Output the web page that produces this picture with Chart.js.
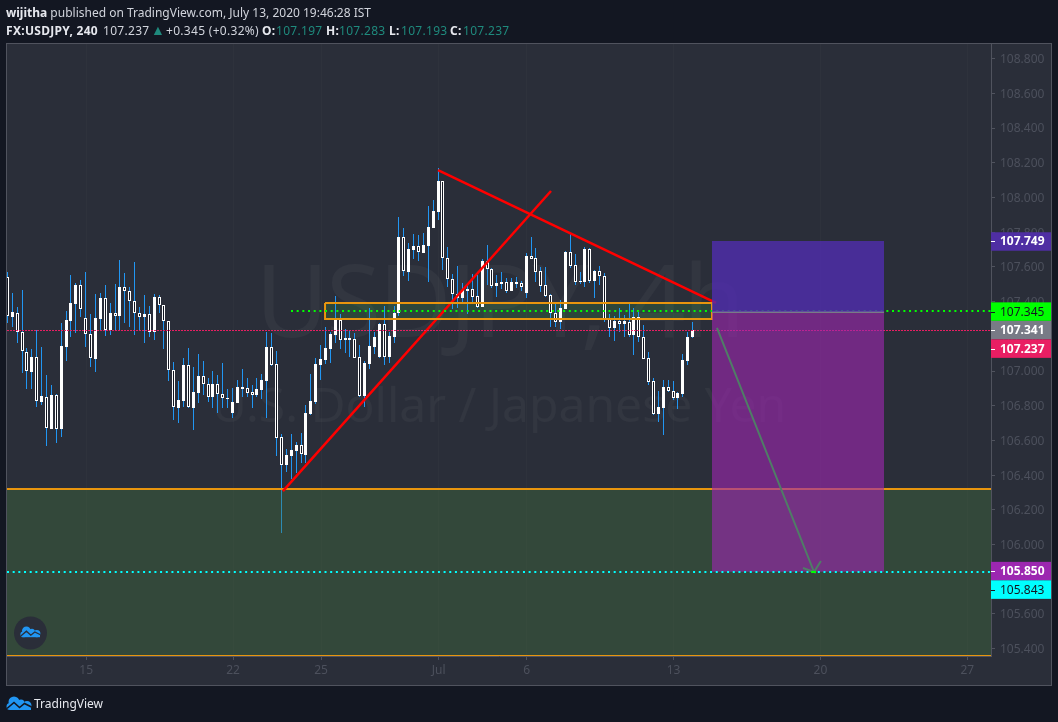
<!DOCTYPE html>
<html>
<head>
<meta charset="utf-8">
<title>USDJPY</title>
<script src="https://cdn.jsdelivr.net/npm/chart.js@4"></script>
<style>
    html, body { margin: 0; padding: 0; background: #131722; overflow: hidden; }
    #wrap { position: relative; width: 1058px; height: 722px; font-family: "Noto Sans", sans-serif; font-size: 12px; color: #d1d4dc; }
    canvas { position: absolute; left: 0; top: 0; }
    .line { position: absolute; left: 6px; white-space: nowrap; }
    .line b { color: #e6e8ee; font-weight: 700; }
    .row2 span, .row2 b { position: absolute; top: 0; letter-spacing: 0.3px; }
    .up { color: #1f8a7d; }
    .tri { font-size: 14px; line-height: 16px; }
</style>
</head>
<body>
<div id="wrap">
    <canvas id="myChart" width="1058" height="722"></canvas>
    <div class="line" style="top:4px"><b>wijitha</b> published on TradingView.com, July 13, 2020 19:46:28 IST</div>
    <div class="line row2" style="top:22px">
        <b style="left:0">FX:USDJPY, 240</b>
        <span style="left:97px">107.237</span>
        <span class="up tri" style="left:145px">▲</span>
        <span style="left:160px">+0.345 (+0.32%)</span>
        <b style="left:256px">O:</b><span class="up" style="left:270px">107.197</span>
        <b style="left:320px">H:</b><span class="up" style="left:333px">107.283</span>
        <b style="left:383px">L:</b><span class="up" style="left:395px">107.193</span>
        <b style="left:444px">C:</b><span class="up" style="left:457px">107.237</span>
    </div>
    <div class="line" style="top:695px;left:34px;color:#e6e8ee">TradingView</div>
</div>
<script>
// candles, 4h bars
const opens = [
    107.542, 107.312, 107.335, 107.225, 107.110, 106.994, 107.081, 106.821, 106.850, 106.666,
    106.862, 106.666, 107.138, 107.288, 107.386, 107.496, 107.306, 107.213, 107.069, 107.300,
    107.421, 107.236, 107.335, 107.317, 107.484, 107.461, 107.403, 107.335, 107.312, 107.329,
    107.225, 107.427, 107.380, 107.288, 107.006, 106.787, 106.827, 107.035, 106.787, 106.873,
    106.971, 106.925, 106.850, 106.925, 106.867, 106.844, 106.758, 106.816, 106.896, 106.902,
    106.879, 106.862, 106.891, 106.942, 107.138, 107.040, 106.620, 106.458, 106.510, 106.539,
    106.574, 106.516, 106.752, 106.821, 107.035, 107.063, 107.127, 107.207, 107.294, 107.179,
    107.179, 107.184, 107.081, 106.856, 107.040, 107.138, 107.081, 107.271, 107.081, 107.196,
    107.335, 107.772, 107.570, 107.697, 107.720, 107.680, 107.720, 107.824, 107.916, 108.095,
    107.651, 107.530, 107.444, 107.421, 107.461, 107.473, 107.432, 107.369, 107.634, 107.588,
    107.490, 107.501, 107.513, 107.461, 107.501, 107.507, 107.450, 107.663, 107.651, 107.576,
    107.496, 107.438, 107.335, 107.282, 107.357, 107.686, 107.611, 107.513, 107.513, 107.703,
    107.519, 107.576, 107.547, 107.300, 107.248, 107.288, 107.271, 107.282, 107.207, 107.312,
    107.196, 107.075, 106.942, 106.752, 106.787, 106.908, 106.885, 106.844, 106.867, 107.058,
    107.197
]
const highs = [
    107.570, 107.450, 107.369, 107.467, 107.133, 107.127, 107.236, 107.138, 106.977, 106.919,
    106.867, 107.277, 107.346, 107.553, 107.507, 107.524, 107.570, 107.329, 107.444, 107.450,
    107.496, 107.392, 107.501, 107.640, 107.565, 107.484, 107.628, 107.369, 107.438, 107.375,
    107.444, 107.438, 107.380, 107.288, 107.052, 106.942, 107.075, 107.133, 107.023, 107.098,
    107.058, 106.960, 107.000, 106.977, 107.046, 106.896, 106.902, 106.948, 107.012, 106.960,
    106.919, 106.960, 106.983, 107.225, 107.219, 107.115, 106.637, 106.550, 106.637, 106.591,
    106.643, 106.804, 106.983, 107.075, 107.150, 107.254, 107.225, 107.432, 107.329, 107.242,
    107.231, 107.219, 107.150, 107.058, 107.363, 107.225, 107.277, 107.375, 107.225, 107.375,
    107.887, 107.824, 107.738, 107.790, 107.784, 107.795, 107.951, 107.985, 108.170, 108.095,
    107.715, 107.559, 107.605, 107.507, 107.496, 107.559, 107.553, 107.645, 107.726, 107.594,
    107.553, 107.571, 107.536, 107.536, 107.542, 107.519, 107.680, 107.772, 107.709, 107.599,
    107.599, 107.444, 107.392, 107.409, 107.692, 107.795, 107.674, 107.571, 107.715, 107.709,
    107.582, 107.605, 107.565, 107.329, 107.317, 107.363, 107.323, 107.392, 107.363, 107.340,
    107.265, 107.110, 106.960, 106.885, 106.948, 106.948, 106.942, 106.879, 107.098, 107.225,
    107.283
]
const lows = [
    107.277, 107.254, 107.161, 106.989, 106.896, 106.896, 106.793, 106.804, 106.568, 106.666,
    106.585, 106.620, 107.058, 107.196, 107.219, 107.312, 107.138, 107.023, 106.994, 107.236,
    107.202, 107.207, 107.236, 107.236, 107.277, 107.254, 107.207, 107.236, 107.161, 107.196,
    107.179, 107.335, 107.127, 106.942, 106.718, 106.700, 106.793, 106.787, 106.660, 106.816,
    106.862, 106.821, 106.787, 106.758, 106.787, 106.787, 106.729, 106.816, 106.850, 106.850,
    106.787, 106.850, 106.839, 106.729, 107.029, 106.510, 106.066, 106.418, 106.378, 106.412,
    106.470, 106.470, 106.746, 106.810, 106.948, 107.040, 107.046, 107.161, 107.127, 107.104,
    107.081, 107.075, 106.850, 106.793, 107.012, 107.098, 107.075, 107.035, 107.046, 107.161,
    107.317, 107.547, 107.519, 107.645, 107.634, 107.680, 107.513, 107.824, 107.870, 107.582,
    107.484, 107.357, 107.363, 107.398, 107.329, 107.392, 107.363, 107.369, 107.496, 107.478,
    107.427, 107.473, 107.450, 107.461, 107.478, 107.461, 107.421, 107.645, 107.513, 107.455,
    107.427, 107.254, 107.254, 107.242, 107.357, 107.594, 107.496, 107.501, 107.484, 107.507,
    107.421, 107.496, 107.282, 107.196, 107.173, 107.225, 107.196, 107.196, 107.092, 107.167,
    107.069, 106.919, 106.746, 106.706, 106.631, 106.879, 106.833, 106.781, 106.850, 107.035,
    107.193
]
const closes = [
    107.317, 107.340, 107.225, 107.115, 107.000, 107.081, 106.827, 106.856, 106.672, 106.862,
    106.666, 107.144, 107.294, 107.392, 107.496, 107.357, 107.213, 107.075, 107.306, 107.421,
    107.236, 107.335, 107.317, 107.484, 107.461, 107.403, 107.335, 107.312, 107.329, 107.225,
    107.427, 107.380, 107.288, 107.006, 106.793, 106.833, 107.035, 106.793, 106.879, 106.971,
    106.925, 106.850, 106.925, 106.867, 106.844, 106.839, 106.821, 106.908, 106.908, 106.873,
    106.862, 106.896, 106.948, 107.138, 107.035, 106.614, 106.458, 106.516, 106.545, 106.574,
    106.522, 106.758, 106.827, 107.040, 107.069, 107.133, 107.213, 107.294, 107.179, 107.190,
    107.190, 107.075, 106.856, 107.046, 107.144, 107.196, 107.271, 107.081, 107.202, 107.335,
    107.772, 107.576, 107.703, 107.720, 107.686, 107.726, 107.830, 107.922, 108.095, 107.651,
    107.530, 107.444, 107.421, 107.467, 107.473, 107.427, 107.369, 107.634, 107.588, 107.490,
    107.507, 107.513, 107.461, 107.513, 107.513, 107.484, 107.663, 107.645, 107.570, 107.490,
    107.432, 107.335, 107.282, 107.363, 107.686, 107.605, 107.513, 107.519, 107.703, 107.519,
    107.576, 107.547, 107.300, 107.248, 107.288, 107.271, 107.288, 107.207, 107.312, 107.196,
    107.069, 106.937, 106.752, 106.793, 106.908, 106.885, 106.844, 106.873, 107.063, 107.196,
    107.237
]

// axes
const priceTicks = [105.4, 105.6, 105.8, 106.0, 106.2, 106.4, 106.6, 106.8, 107.0, 107.2, 107.4, 107.6, 107.8, 108.0, 108.2, 108.4, 108.6, 108.8]
const dateTickBars = [16, 46, 64, 88, 106, 136, 166, 196]
const dateTickLabels = ["15", "22", "25", "Jul", "6", "13", "20", "27"]
const xMin = -0.17
const xMax = 200.85
const yMin = 105.358
const yMax = 108.884

// drawings on the chart, [bar, price]
const redLineUp = [[56.2, 106.308], [110.96, 108.037]]
const redLineDown = [[87.88, 108.158], [144.67, 107.392]]
const supplyBox = { from: 64.8, to: 143.85, top: 107.392, bottom: 107.300 }
const demandTop = 106.32
const demandBottom = 105.361
const greenLinePrice = 107.345
const entryPrice = 107.341
const stopPrice = 107.749
const targetPrice = 105.843
const lastPrice = 107.237
const positionBars = [143.85, 179]
const arrowPath = [[144.87, 107.248], [164.7, 105.842], [162.44, 105.865], [164.7, 105.842], [166.1, 105.905]]
const arrowTip = [164.1, 165.1]

// labels on the price axis
const tagValues = [107.749, 107.345, 107.341, 107.237, 105.850, 105.843]
const tagColors = ["#4f2ea3", "#00ff00", "#787b86", "#e91e63", "#9c27b0", "#00ffff"]
const tagDarkText = [false, true, false, false, false, true]

const bars = opens.map((o, i) => i)
const toPoints = list => list.map(p => ({ x: p[0], y: p[1] }))
const hLine = (from, to, price) => [{ x: from, y: price }, { x: to, y: price }]

const lineDefaults = { type: "line", pointRadius: 0, tension: 0, fill: false, borderWidth: 2, clip: 2 }

const zoneFill = (from, to, top, bottom, color, order, lineColor) => ({
    ...lineDefaults,
    snap: !!lineColor,
    data: hLine(from, to, top),
    fill: { value: bottom },
    backgroundColor: color,
    borderColor: lineColor || "transparent",
    borderWidth: lineColor ? 2 : 0,
    order: order
})

const datasets = [
    // behind the candles
    zoneFill(supplyBox.from, supplyBox.to, supplyBox.top, supplyBox.bottom, "rgba(60,170,70,0.2)", 10),
    {
        type: "bar", grouped: false, order: 8, barThickness: 1, inflateAmount: 0,
        backgroundColor: "#2196f3", borderWidth: 0,
        data: bars.map(i => ({ x: i, y: [lows[i], highs[i]] }))
    },
    {
        type: "bar", grouped: false, order: 7, barThickness: 3, inflateAmount: 0, borderSkipped: false,
        borderWidth: 1, borderColor: "#ffffff",
        backgroundColor: bars.map(i => closes[i] < opens[i] ? "#131722" : "#ffffff"),
        data: bars.map(i => ({ x: i, y: [opens[i], closes[i]] }))
    },
    // big zone at the bottom goes over the candles, the long wick shows through
    zoneFill(xMin, xMax, demandTop, yMin, "rgba(70,120,60,0.35)", 6),
    { ...lineDefaults, snap: true, data: hLine(xMin, xMax, demandTop), borderColor: "#e8950e", order: 5 },
    { ...lineDefaults, snap: true, data: hLine(xMin, xMax, demandBottom), borderColor: "#e8950e", borderWidth: 1, order: 5 },
    // these go under the position zones
    { ...lineDefaults, snap: true, data: hLine(xMin, xMax, lastPrice), borderColor: "#e91e63", borderWidth: 1, borderDash: [2, 1], order: 4 },
    { ...lineDefaults, snap: true, data: hLine(57.85, xMax, greenLinePrice), borderColor: "#00ff00", borderDash: [2, 3.67], order: 4 },
    {
        ...lineDefaults, snap: true, order: 4, borderColor: "#e8950e",
        data: [
            { x: supplyBox.from, y: supplyBox.top }, { x: supplyBox.to, y: supplyBox.top },
            { x: supplyBox.to, y: supplyBox.bottom }, { x: supplyBox.from, y: supplyBox.bottom },
            { x: supplyBox.from, y: supplyBox.top }
        ]
    },
    { ...lineDefaults, data: toPoints(redLineUp), borderColor: "#ff0000", borderWidth: 2.5, order: 4 },
    { ...lineDefaults, data: toPoints(redLineDown), borderColor: "#ff0000", borderWidth: 2.5, order: 4 },
    // short position
    zoneFill(positionBars[0], positionBars[1], stopPrice, entryPrice, "rgba(80,45,175,0.8)", 3),
    zoneFill(positionBars[0], positionBars[1], entryPrice, targetPrice, "rgba(156,39,176,0.62)", 3, "#787b86"),
    // on top of everything
    { ...lineDefaults, snap: true, data: hLine(xMin, xMax, targetPrice), borderColor: "#00ffff", borderDash: [2, 3.67], order: 2 },
    { ...lineDefaults, data: toPoints(arrowPath), borderColor: "#4f7d66", order: 1 },
    { ...lineDefaults, snap: true, data: hLine(arrowTip[0], arrowTip[1], targetPrice), borderColor: "#00ff00", order: 0 }
]

// tradingview cloud logo, drawn at 26 x 14 units
const drawLogo = (ctx, x, y, s, holeColor) => {
    ctx.save()
    ctx.translate(x, y)
    ctx.scale(s, s)
    ctx.fillStyle = "#2196f3"
    ctx.beginPath()
    ctx.arc(8, 6, 5.5, 0, Math.PI * 2)
    ctx.arc(15, 7, 3.5, 0, Math.PI * 2)
    ctx.arc(21, 9.5, 4.5, 0, Math.PI * 2)
    ctx.arc(4, 10.5, 3.5, 0, Math.PI * 2)
    ctx.fill()
    ctx.fillRect(4, 9, 21, 5)
    ctx.strokeStyle = holeColor
    ctx.lineWidth = 1.6
    ctx.beginPath()
    ctx.moveTo(1, 12.5)
    ctx.lineTo(8, 6.5)
    ctx.lineTo(13.5, 11.5)
    ctx.lineTo(18.5, 7.5)
    ctx.lineTo(25.5, 11)
    ctx.stroke()
    ctx.restore()
}

const chartFrame = {
    id: "chartFrame",
    beforeDraw(chart) {
        const { ctx, chartArea, scales } = chart
        ctx.save()
        ctx.fillStyle = "#2a2e39"
        ctx.fillRect(chartArea.left, chartArea.top, scales.y.right - chartArea.left, scales.x.bottom - chartArea.top)
        ctx.strokeStyle = "#50535e"
        ctx.lineWidth = 1
        ctx.strokeRect(chartArea.left - 0.5, chartArea.top - 0.5, scales.y.right - chartArea.left + 1, scales.x.bottom - chartArea.top + 1)
        ctx.restore()
    },
    beforeDatasetsDraw(chart) {
        const { ctx, chartArea } = chart
        ctx.save()
        ctx.fillStyle = "rgba(255,255,255,0.04)"
        ctx.textAlign = "center"
        ctx.textBaseline = "middle"
        ctx.font = "100px 'Noto Sans'"
        ctx.letterSpacing = "-2.4px"
        ctx.fillText("USDJPY, 4h", (chartArea.left + chartArea.right) / 2, 309)
        ctx.font = "48px 'Noto Sans'"
        ctx.letterSpacing = "0px"
        ctx.fillText("U.S. Dollar / Japanese Yen", (chartArea.left + chartArea.right) / 2, 408)
        ctx.restore()

        // keep candles and straight lines on whole pixels, like the original
        chart.getSortedVisibleDatasetMetas().forEach(meta => {
            if (meta.type === "bar") {
                meta.data.forEach(el => {
                    el.x = Math.floor(el.x - 0.5) + 0.5
                    el.y = Math.round(el.y)
                    el.base = Math.round(el.base)
                    if (el.y === el.base) el.base += 1
                })
            } else if (meta._dataset.snap) {
                const half = meta._dataset.borderWidth % 2 ? 0.5 : 0
                meta.data.forEach(el => { el.y = Math.round(el.y) + half })
            }
        })
    },
    afterDraw(chart) {
        const { ctx, scales } = chart
        ctx.save()

        // price tags, pushed down when they would overlap
        const tagHeight = 18.5
        let lastBottom = 0
        ctx.textBaseline = "middle"
        tagValues.forEach((value, i) => {
            let mid = scales.y.getPixelForValue(value) + 0.5
            if (mid - tagHeight / 2 < lastBottom) mid = lastBottom + tagHeight / 2
            lastBottom = mid + tagHeight / 2
            ctx.fillStyle = tagColors[i]
            ctx.fillRect(scales.y.left, mid - tagHeight / 2, scales.y.right - scales.y.left, tagHeight)
            ctx.fillStyle = tagDarkText[i] ? "#131722" : "#ffffff"
            ctx.fillRect(scales.y.left, Math.round(mid), 4, 1)
            ctx.font = (tagDarkText[i] ? "" : "bold ") + "12px 'Noto Sans'"
            ctx.textAlign = "left"
            ctx.fillText(value.toFixed(3), scales.y.left + 9, mid + 0.5)
        })

        // logos
        ctx.fillStyle = "#2a2e39"
        ctx.beginPath()
        ctx.arc(30.5, 633, 16.5, 0, Math.PI * 2)
        ctx.fill()
        drawLogo(ctx, 20, 626, 0.8, "#2a2e39")
        drawLogo(ctx, 6, 696, 1, "#131722")
        ctx.restore()
    }
}

const ctx = document.getElementById("myChart").getContext("2d")
const chart = new Chart(ctx, {
    type: "bar",
    data: { datasets: datasets },
    plugins: [chartFrame],
    options: {
        responsive: false,
        animation: false,
        layout: { padding: { left: 7, top: 44, right: 7, bottom: 37 } },
        plugins: { legend: { display: false }, tooltip: { enabled: false } },
        scales: {
            x: {
                type: "linear",
                min: xMin,
                max: xMax,
                offset: false,
                grid: { offset: false, color: "rgba(255,255,255,0.02)", tickColor: "#50535e", tickLength: 4 },
                border: { color: "#50535e" },
                afterBuildTicks: scale => { scale.ticks = dateTickBars.map(v => ({ value: v })) },
                afterFit: scale => { scale.height = 29 },
                ticks: {
                    autoSkip: false,
                    maxRotation: 0,
                    padding: 3,
                    color: "#4c505c",
                    font: { family: "'Noto Sans'", size: 12 },
                    callback: value => dateTickLabels[dateTickBars.indexOf(value)]
                }
            },
            y: {
                position: "right",
                min: yMin,
                max: yMax,
                grid: { drawOnChartArea: false, tickColor: "#50535e", tickLength: 4 },
                border: { color: "#50535e" },
                afterBuildTicks: scale => { scale.ticks = priceTicks.map(v => ({ value: v })) },
                afterFit: scale => { scale.width = 60 },
                ticks: {
                    autoSkip: false,
                    padding: 5,
                    labelOffset: 1,
                    color: "#4c505c",
                    font: { family: "'Noto Sans'", size: 12 },
                    callback: value => value.toFixed(3)
                }
            }
        }
    }
})
</script>
</body>
</html>
